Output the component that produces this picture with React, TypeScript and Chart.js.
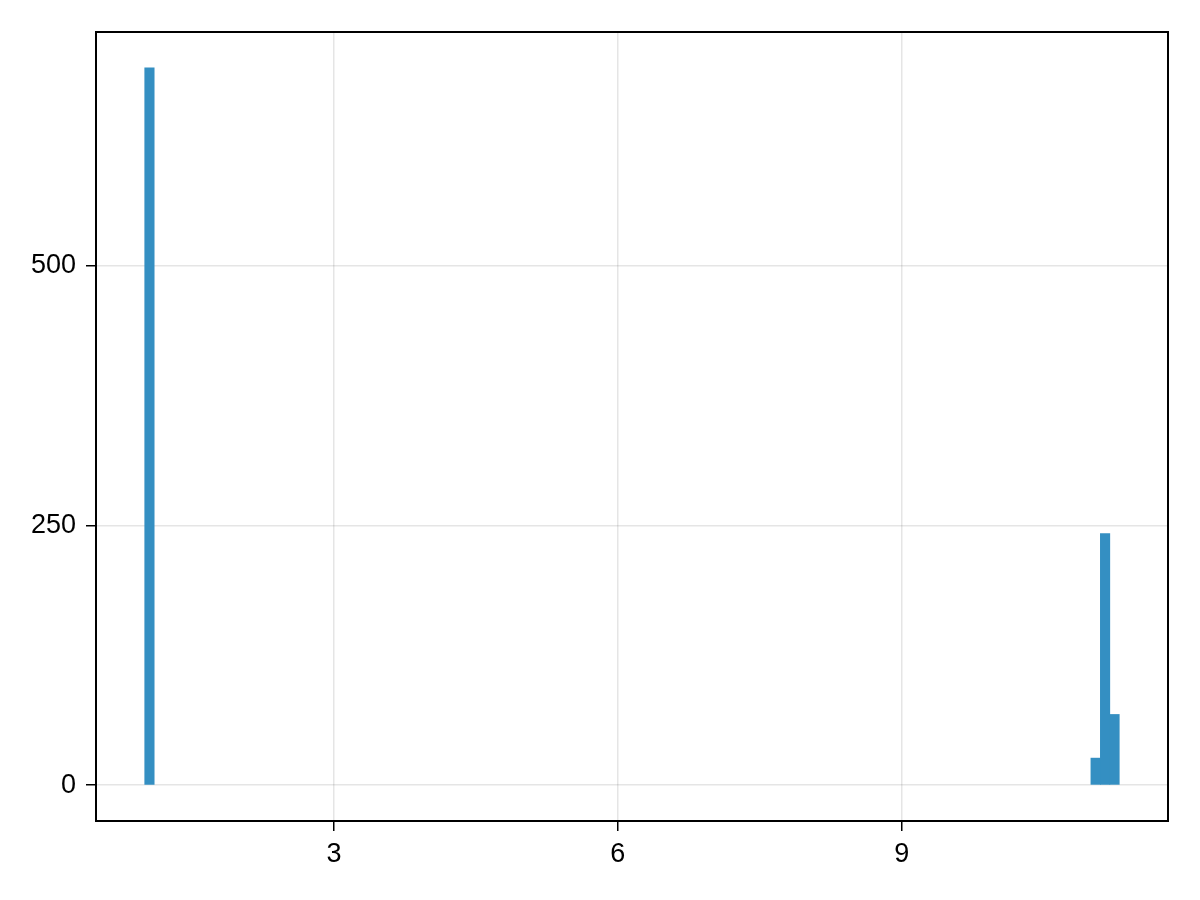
import React, { useEffect, useRef } from "react";
import { Chart, registerables } from "chart.js";

Chart.register(...registerables);

// Histogram bins (bin centres, width 0.1) and counts
const binCenters = [1.05, 11.05, 11.15, 11.25];
const counts = [690, 26, 242, 68];
const xTicks = [3, 6, 9];
const yTicks = [0, 250, 500];

const FONT = "'Liberation Sans', Arial, Helvetica, sans-serif";

const framePlugin = {
  id: "frame",
  afterDraw(chart: any) {
    const { ctx, chartArea } = chart;
    ctx.save();
    ctx.strokeStyle = "#000";
    ctx.lineWidth = 2;
    ctx.strokeRect(chartArea.left, chartArea.top, chartArea.right - chartArea.left, chartArea.bottom - chartArea.top);
    ctx.restore();
  },
};

export default function App() {
  const ref = useRef<HTMLCanvasElement | null>(null);
  useEffect(() => {
    document.body.style.margin = "0";
    const canvas = ref.current!;
    const chart = new Chart(canvas, {
      type: "bar",
      data: {
        datasets: [
          {
            data: binCenters.map((x, i) => ({ x, y: counts[i] })),
            backgroundColor: "rgb(52,143,194)",
            borderWidth: 0,
            barPercentage: 1,
            categoryPercentage: 1,
          },
        ],
      },
      options: {
        responsive: false,
        animation: false,
        devicePixelRatio: 1,
        layout: { padding: { top: 32, right: 32, left: 0, bottom: 0 } },
        plugins: { legend: { display: false }, tooltip: { enabled: false } },
        scales: {
          x: {
            type: "linear",
            offset: false,
            min: 0.485,
            max: 11.815,
            afterBuildTicks: (s: any) => {
              s.ticks = xTicks.map((v) => ({ value: v }));
            },
            afterFit: (s: any) => {
              s.height = 79;
            },
            grid: {
              color: "rgba(0,0,0,0.1)",
              lineWidth: 1.5,
              tickColor: "#000",
              tickLength: 10,
              tickWidth: 1.5,
              offset: false,
            },
            border: { display: false },
            ticks: {
              color: "#000",
              padding: 7,
              font: { family: FONT, size: 27 },
              maxRotation: 0,
            },
          },
          y: {
            type: "linear",
            min: -34.5,
            max: 724.5,
            afterBuildTicks: (s: any) => {
              s.ticks = yTicks.map((v) => ({ value: v }));
            },
            afterFit: (s: any) => {
              s.width = 96;
            },
            grid: {
              color: "rgba(0,0,0,0.1)",
              lineWidth: 1.5,
              tickColor: "#000",
              tickLength: 10,
              tickWidth: 1.5,
            },
            border: { display: false },
            ticks: {
              color: "#000",
              padding: 10,
              font: { family: FONT, size: 27 },
            },
          },
        },
      },
      plugins: [framePlugin],
    });
    return () => chart.destroy();
  }, []);
  return <canvas ref={ref} width={1200} height={900} style={{ display: "block" }} />;
}
